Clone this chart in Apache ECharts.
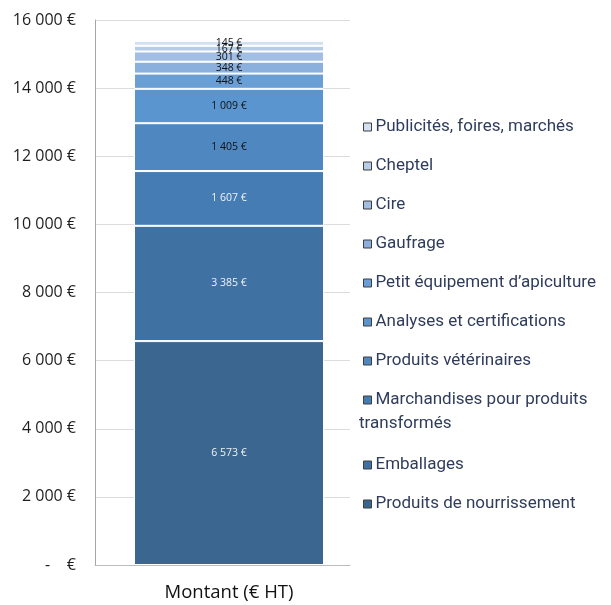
<!DOCTYPE html>
<html>
<head>
<meta charset="utf-8">
<script src="https://cdn.jsdelivr.net/npm/echarts@6/dist/echarts.min.js"></script>
<style>
  html, body { margin: 0; padding: 0; background: #ffffff; }
  #chart { width: 611px; height: 605px; }
</style>
</head>
<body>
<div id="chart"></div>
<script>
// données (ordre d'empilement, du bas vers le haut)
var categories = ["Montant (€ HT)"];
var seriesNames = [
  "Produits de nourrissement",
  "Emballages",
  "Marchandises pour produits transformés",
  "Produits vétérinaires",
  "Analyses et certifications",
  "Petit équipement d’apiculture",
  "Gaufrage",
  "Cire",
  "Cheptel",
  "Publicités, foires, marchés"
];
var seriesValues = [6573, 3385, 1607, 1405, 1009, 448, 348, 301, 167, 145];
var yMin = 0, yMax = 16000, yStep = 2000;

// styles
var colors = ["#3a668f", "#3f71a3", "#457cb3", "#4f88c1", "#5a95cf", "#6a9fd6", "#8cb0dd", "#a2bfe3", "#b8cde9", "#d2e0f1"];
var labelColors = ["#f2f2f2", "#f2f2f2", "#f2f2f2", "#111", "#111", "#111", "#111", "#111", "#111", "#111"];
var legendText = "#2f3c5c";

function euro(v) {
  if (v === 0) return "-    €";
  return String(v).replace(/\B(?=(\d{3})+(?!\d))/g, " ") + " €";
}

var series = [];
for (var i = 0; i < seriesNames.length; i++) {
  series.push({
    name: seriesNames[i],
    type: "bar",
    stack: "total",
    xAxisIndex: 1,
    yAxisIndex: 1,
    barWidth: 190,
    data: [seriesValues[i]],
    itemStyle: { color: colors[i], borderColor: "#ffffff", borderWidth: 1 },
    label: {
      show: true,
      position: "inside",
      formatter: function (p) { return euro(p.value); },
      color: labelColors[i],
      fontFamily: "Open Sans",
      fontSize: 10.5
    }
  });
}

var legendOrder = seriesNames.slice().reverse();
var wrapName = "Marchandises pour produits transformés";
var legendCommon = {
  orient: "vertical",
  left: 363,
  padding: 0,
  icon: "rect",
  itemWidth: 8,
  itemHeight: 8,
  itemGap: 19,
  itemStyle: { borderColor: "#3f3f3f", borderWidth: 1 },
  selectedMode: false,
  textStyle: { color: legendText, fontFamily: "Roboto", fontSize: 17, lineHeight: 20, padding: [0, 0, 0, -1] },
  formatter: function (name) {
    return name === wrapName ? "Marchandises pour produits" : name;
  }
};

var myChart = echarts.init(document.getElementById("chart"));
myChart.setOption({
  animation: false,
  color: colors,
  grid: [
    { left: 95, top: 20, width: 255, bottom: 40 },
    { left: 108, top: 20, width: 242, bottom: 40 }
  ],
  xAxis: [
    {
      gridIndex: 0,
      type: "category",
      data: [""],
      axisLine: { show: true, lineStyle: { color: "#bcbcbc", width: 1 } },
      axisTick: { show: false },
      axisLabel: { show: false }
    },
    {
      gridIndex: 1,
      type: "category",
      data: categories,
      axisLine: { show: false },
      axisTick: { show: false },
      axisLabel: { color: "#111", fontFamily: "Open Sans", fontSize: 18.5, margin: 18 }
    }
  ],
  yAxis: [
    {
      gridIndex: 0,
      type: "value",
      min: yMin,
      max: yMax,
      interval: yStep,
      axisLine: { show: true, lineStyle: { color: "#a6a6a6" } },
      axisTick: { show: false },
      splitLine: { show: true, lineStyle: { color: "#dcdcdc", width: 1 } },
      axisLabel: {
        formatter: euro,
        color: "#1e1e1e",
        fontFamily: "Open Sans",
        fontSize: 16,
        margin: 19
      }
    },
    {
      gridIndex: 1,
      type: "value",
      min: yMin,
      max: yMax,
      interval: yStep,
      show: false
    }
  ],
  legend: [
    Object.assign({}, legendCommon, { top: 117, data: legendOrder.slice(0, 8) }),
    Object.assign({}, legendCommon, { top: 455, data: legendOrder.slice(8) })
  ],
  graphic: [
    {
      type: "text",
      left: 359,
      top: 415,
      style: { text: "transformés", fill: legendText, font: "17px Roboto" }
    }
  ],
  series: series
});
</script>
</body>
</html>
